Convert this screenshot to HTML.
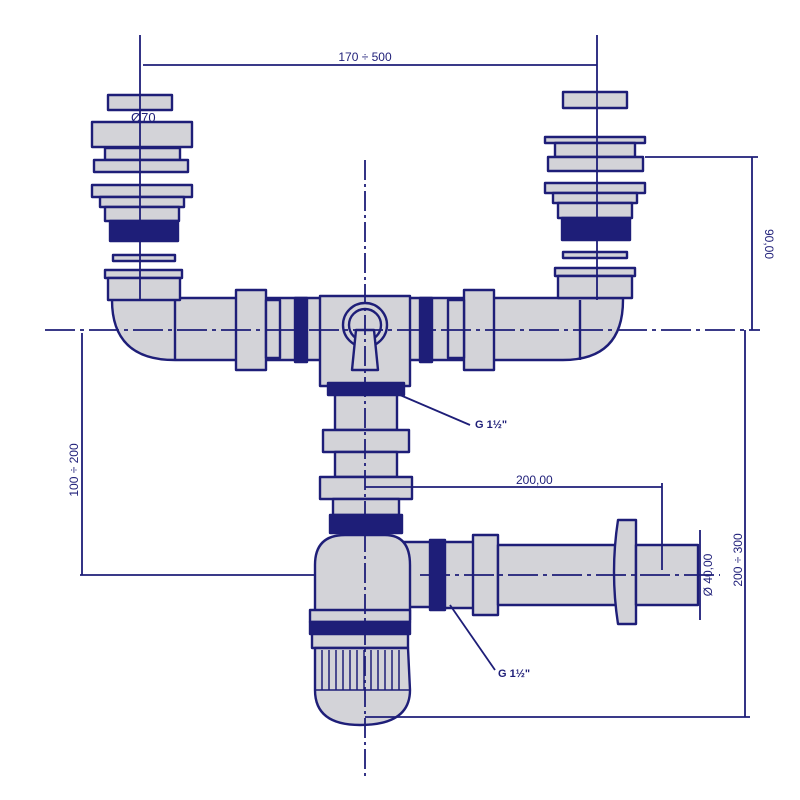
<!DOCTYPE html>
<html><head><meta charset="utf-8"><style>
html,body{margin:0;padding:0;background:#fff}
svg{display:block}
text{font-family:"Liberation Sans",sans-serif;fill:#1e1e78}
</style></head><body>
<svg width="800" height="800" viewBox="0 0 800 800" xmlns="http://www.w3.org/2000/svg">
<g fill="#d3d3d8" stroke="#1e1e78" stroke-width="2.4" stroke-linejoin="round">
<!-- horizontal main pipe with elbows -->
<path d="M112 298 L623 298 L623 300 Q623 360 563 360 L175 360 Q112 360 112 300 Z"/>
<line x1="175" y1="300" x2="175" y2="360"/>
<line x1="580" y1="300" x2="580" y2="360"/>
<!-- left strainer -->
<rect x="108" y="95" width="64" height="15"/>
<rect x="92" y="122" width="100" height="25"/>
<rect x="105" y="148" width="75" height="12"/>
<rect x="94" y="160" width="94" height="12"/>
<rect x="92" y="185" width="100" height="12"/>
<rect x="100" y="197" width="84" height="10"/>
<rect x="105" y="207" width="74" height="14"/>
<rect x="110" y="221" width="68" height="20" fill="#1e1e78"/>
<rect x="113" y="255" width="62" height="6"/>
<rect x="105" y="270" width="77" height="8"/>
<rect x="108" y="278" width="72" height="22"/>
<!-- right strainer -->
<rect x="563" y="92" width="64" height="16"/>
<rect x="545" y="137" width="100" height="6"/>
<rect x="555" y="143" width="80" height="14"/>
<rect x="548" y="157" width="95" height="14"/>
<rect x="545" y="183" width="100" height="10"/>
<rect x="553" y="193" width="84" height="10"/>
<rect x="558" y="203" width="74" height="15"/>
<rect x="562" y="218" width="68" height="22" fill="#1e1e78"/>
<rect x="563" y="252" width="64" height="6"/>
<rect x="555" y="268" width="80" height="8"/>
<rect x="558" y="276" width="74" height="22"/>
<!-- pipe fittings left -->
<rect x="236" y="290" width="30" height="80"/>
<rect x="266" y="300" width="14" height="58"/>
<rect x="295" y="298" width="12" height="64" fill="#1e1e78"/>
<!-- pipe fittings right -->
<rect x="464" y="290" width="30" height="80"/>
<rect x="448" y="300" width="16" height="58"/>
<rect x="420" y="298" width="12" height="64" fill="#1e1e78"/>
<!-- tee -->
<rect x="320" y="296" width="90" height="90"/>
<circle cx="365" cy="325" r="22"/>
<circle cx="365" cy="325" r="16"/>
<path d="M356 330 L374 330 L378 370 L352 370 Z"/>
<!-- vertical stack -->
<rect x="328" y="383" width="76" height="12" fill="#1e1e78"/>
<rect x="335" y="395" width="62" height="35"/>
<rect x="323" y="430" width="86" height="22"/>
<rect x="335" y="452" width="62" height="25"/>
<rect x="320" y="477" width="92" height="22"/>
<rect x="333" y="499" width="66" height="16"/>
<rect x="330" y="515" width="72" height="18" fill="#1e1e78"/>
<!-- outlet pipe -->
<rect x="400" y="542" width="40" height="65"/>
<rect x="430" y="540" width="15" height="70" fill="#1e1e78"/>
<rect x="445" y="542" width="30" height="66"/>
<rect x="473" y="535" width="25" height="80"/>
<rect x="498" y="545" width="130" height="60"/>
<path d="M618 520 L636 520 L636 624 L618 624 Q610 572 618 520 Z"/>
<rect x="636" y="545" width="62" height="60"/>
<!-- bottle trap -->
<path d="M315 565 Q315 535 345 535 L385 535 Q410 535 410 565 L410 620 L315 620 Z"/>
<rect x="310" y="610" width="100" height="12"/>
<rect x="310" y="622" width="100" height="12" fill="#1e1e78"/>
<rect x="312" y="634" width="96" height="14"/>
<path d="M315 648 L408 648 L410 690 Q410 725 360 725 Q315 725 315 690 Z"/>
</g>
<!-- ribbing -->
<g stroke="#1e1e78" stroke-width="1.5">
<line x1="322" y1="650" x2="322" y2="690"/><line x1="329" y1="650" x2="329" y2="690"/><line x1="336" y1="650" x2="336" y2="690"/><line x1="343" y1="650" x2="343" y2="690"/><line x1="350" y1="650" x2="350" y2="690"/><line x1="357" y1="650" x2="357" y2="690"/><line x1="364" y1="650" x2="364" y2="690"/><line x1="371" y1="650" x2="371" y2="690"/><line x1="378" y1="650" x2="378" y2="690"/><line x1="385" y1="650" x2="385" y2="690"/><line x1="392" y1="650" x2="392" y2="690"/><line x1="399" y1="650" x2="399" y2="690"/>
<line x1="315" y1="690" x2="410" y2="690"/>
</g>
<!-- dimension & axis lines -->
<g stroke="#1e1e78" stroke-width="1.8" fill="none">
<line x1="140" y1="35" x2="140" y2="300"/>
<line x1="597" y1="35" x2="597" y2="300"/>
<line x1="143" y1="65" x2="597" y2="65"/>
<line x1="365" y1="160" x2="365" y2="780" stroke-dasharray="20 4 3 4"/>
<line x1="45" y1="330" x2="760" y2="330" stroke-dasharray="30 5 4 5"/>
<line x1="645" y1="157" x2="758" y2="157"/>
<line x1="752" y1="157" x2="752" y2="330"/>
<line x1="745" y1="330" x2="745" y2="717"/>
<line x1="365" y1="717" x2="750" y2="717"/>
<line x1="82" y1="333" x2="82" y2="575"/>
<line x1="80" y1="575" x2="315" y2="575"/>
<line x1="365" y1="487" x2="662" y2="487"/>
<line x1="662" y1="483" x2="662" y2="570"/>
<line x1="700" y1="530" x2="700" y2="620"/>
<line x1="420" y1="575" x2="720" y2="575" stroke-dasharray="30 5 4 5"/>
<line x1="400" y1="395" x2="470" y2="425"/>
<line x1="450" y1="605" x2="495" y2="670"/>
</g>
<text x="365" y="61" font-size="12" text-anchor="middle">170 ÷ 500</text>
<text x="131" y="122" font-size="13">Ø70</text>
<text x="475" y="428" font-size="11" font-weight="bold">G 1½"</text>
<text x="498" y="677" font-size="11" font-weight="bold">G 1½"</text>
<text x="516" y="484" font-size="12">200,00</text>
<text transform="translate(765,244) rotate(90)" font-size="12" text-anchor="middle">90,00</text>
<text transform="translate(78,470) rotate(-90)" font-size="12" text-anchor="middle">100 ÷ 200</text>
<text transform="translate(742,560) rotate(-90)" font-size="12" text-anchor="middle">200 ÷ 300</text>
<text transform="translate(712,575) rotate(-90)" font-size="12" text-anchor="middle">Ø 40,00</text>
</svg>
</body></html>
